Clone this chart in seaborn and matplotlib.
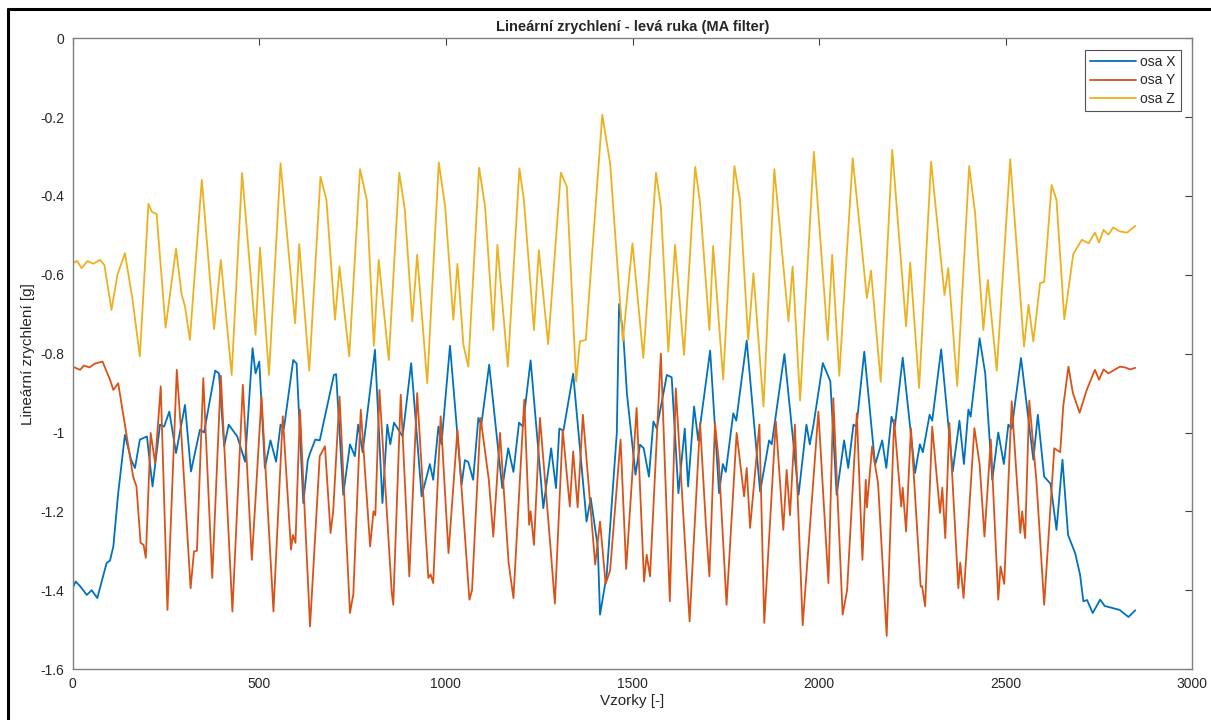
import numpy as np
import seaborn as sns
import matplotlib.pyplot as plt
from matplotlib.lines import Line2D
from matplotlib.ticker import FuncFormatter, MultipleLocator

# ==============================
# Data (sample index, acceleration [g])
# ==============================
x_osa_x = [0, 8, 20, 38, 51, 66, 80, 91, 100, 109, 122, 140, 157, 167, 180, 199, 214, 234, 245, 259,
           277, 301, 317, 341, 352, 382, 392, 406, 418, 441, 462, 482, 490, 500, 515, 530, 545, 557, 566,
           591, 600, 618, 630, 637, 650, 662, 700, 706, 725, 743, 756, 765, 777, 810, 830, 843, 851, 861,
           884, 907, 935, 957, 966, 980, 988, 1011, 1042, 1051, 1060, 1073, 1087, 1095, 1116, 1151, 1167,
           1181, 1196, 1206, 1227, 1261, 1282, 1295, 1304, 1315, 1341, 1377, 1388, 1407, 1413, 1431, 1458,
           1464, 1475, 1485, 1508, 1520, 1530, 1544, 1556, 1565, 1592, 1605, 1623, 1640, 1649, 1665, 1676,
           1708, 1732, 1742, 1750, 1770, 1778, 1806, 1842, 1866, 1873, 1882, 1907, 1945, 1966, 1975, 1985,
           2010, 2030, 2047, 2067, 2078, 2092, 2100, 2121, 2150, 2169, 2180, 2194, 2203, 2224, 2257, 2270,
           2278, 2296, 2303, 2327, 2358, 2376, 2388, 2400, 2406, 2430, 2445, 2464, 2480, 2495, 2507, 2516,
           2541, 2574, 2586, 2603, 2620, 2636, 2652, 2667, 2686, 2699, 2708, 2718, 2733, 2753, 2765, 2785,
           2805, 2829, 2847]
y_osa_x = [-1.395, -1.378, -1.39, -1.412, -1.40, -1.420, -1.37, -1.331, -1.325, -1.289, -1.154, -1.006,
           -1.07, -1.090, -1.018, -1.01, -1.137, -0.980, -0.985, -0.947, -1.052, -0.930, -1.099, -0.993,
           -1.0, -0.843, -0.85, -1.035, -0.98, -1.01, -1.074, -0.786, -0.85, -0.820, -1.090, -1.02, -1.074,
           -0.98, -0.99, -0.816, -0.825, -1.179, -1.07, -1.05, -1.018, -1.02, -0.854, -0.852, -1.158, -1.03,
           -1.06, -0.980, -1.05, -0.790, -1.179, -0.980, -1.03, -0.975, -1.01, -0.824, -1.162, -1.08, -1.12,
           -0.985, -1.03, -0.780, -1.133, -1.07, -1.075, -1.120, -0.963, -0.98, -0.828, -1.141, -1.04, -1.10,
           -0.975, -0.985, -0.817, -1.192, -1.04, -1.141, -0.99, -0.995, -0.851, -1.226, -1.166, -1.29,
           -1.462, -1.36, -1.0, -0.674, -0.748, -0.900, -1.107, -1.031, -1.04, -1.112, -0.972, -0.99, -0.854,
           -0.86, -1.154, -0.99, -1.137, -0.934, -1.02, -0.792, -1.154, -1.08, -1.10, -0.951, -0.97, -0.767,
           -1.150, -1.02, -1.03, -0.97, -0.801, -1.158, -0.98, -1.03, -0.98, -0.824, -0.87, -1.158, -1.02,
           -1.09, -0.98, -0.985, -0.795, -1.082, -1.02, -1.09, -0.96, -0.985, -0.810, -1.103, -1.03, -1.05,
           -0.955, -0.97, -0.789, -1.099, -0.97, -1.08, -0.942, -0.96, -0.761, -0.85, -1.120, -1.0, -1.08,
           -0.980, -0.99, -0.811, -1.069, -0.955, -1.112, -1.13, -1.247, -1.069, -1.26, -1.306, -1.36,
           -1.428, -1.425, -1.458, -1.424, -1.44, -1.445, -1.45, -1.468, -1.451]

x_osa_y = [0, 20, 30, 45, 60, 80, 100, 109, 122, 145, 162, 171, 182, 190, 196, 209, 221, 236, 254, 279,
           292, 316, 325, 333, 350, 374, 397, 428, 456, 480, 488, 506, 538, 563, 585, 590, 597, 609, 636,
           662, 676, 691, 698, 715, 743, 752, 772, 797, 806, 811, 822, 855, 859, 879, 902, 923, 953, 959,
           966, 986, 1007, 1031, 1063, 1070, 1093, 1115, 1127, 1145, 1168, 1181, 1210, 1223, 1227, 1236,
           1252, 1281, 1292, 1313, 1332, 1341, 1353, 1367, 1400, 1413, 1428, 1440, 1468, 1483, 1511, 1531,
           1538, 1547, 1576, 1600, 1616, 1653, 1681, 1697, 1706, 1721, 1731, 1752, 1779, 1799, 1806, 1815,
           1840, 1853, 1884, 1904, 1913, 1922, 1935, 1956, 1998, 2025, 2038, 2063, 2075, 2101, 2116, 2125,
           2128, 2142, 2158, 2181, 2201, 2220, 2224, 2233, 2246, 2272, 2276, 2284, 2303, 2324, 2330, 2338,
           2349, 2373, 2378, 2387, 2416, 2430, 2443, 2460, 2480, 2486, 2496, 2516, 2539, 2544, 2552, 2563,
           2582, 2603, 2630, 2646, 2654, 2668, 2680, 2698, 2717, 2739, 2750, 2762, 2775, 2806, 2820, 2833,
           2847]
y_osa_y = [-0.833, -0.841, -0.83, -0.835, -0.825, -0.820, -0.866, -0.892, -0.875, -1.010, -1.112, -1.137,
           -1.280, -1.285, -1.318, -1.001, -1.078, -0.883, -1.450, -0.841, -1.018, -1.395, -1.302, -1.30,
           -0.862, -1.369, -0.856, -1.454, -0.879, -1.323, -1.20, -0.909, -1.454, -0.959, -1.297, -1.26,
           -1.28, -0.942, -1.492, -1.06, -1.035, -1.255, -1.20, -0.909, -1.458, -1.41, -0.942, -1.289, -1.200,
           -1.21, -0.892, -1.407, -1.437, -0.904, -1.365, -0.900, -1.369, -1.36, -1.382, -0.959, -1.306,
           -0.993, -1.424, -1.40, -0.963, -1.12, -1.264, -1.001, -1.33, -1.420, -0.917, -1.234, -1.20,
           -1.285, -0.963, -1.30, -1.434, -0.993, -1.188, -1.048, -1.19, -0.955, -1.335, -1.226, -1.384,
           -1.35, -1.018, -1.346, -0.938, -1.378, -1.31, -1.365, -0.80, -1.428, -0.888, -1.479, -0.976,
           -1.24, -1.365, -0.976, -1.07, -1.437, -1.001, -1.162, -1.09, -1.242, -0.980, -1.483, -0.972,
           -1.247, -1.095, -1.21, -0.980, -1.489, -0.947, -1.382, -0.913, -1.462, -1.40, -0.951, -1.323,
           -1.120, -1.19, -1.035, -1.13, -1.516, -0.968, -1.188, -1.14, -1.251, -0.989, -1.391, -1.39,
           -1.441, -0.985, -1.204, -1.14, -1.268, -0.976, -1.395, -1.33, -1.420, -0.989, -1.08, -1.264,
           -1.018, -1.424, -1.34, -1.384, -0.921, -1.255, -1.20, -1.268, -0.919, -1.12, -1.437, -1.040,
           -1.05, -0.934, -0.833, -0.90, -0.95, -0.892, -0.841, -0.866, -0.84, -0.85, -0.833, -0.835, -0.84,
           -0.836]

x_osa_z = [0, 12, 24, 40, 55, 73, 85, 104, 120, 140, 160, 180, 203, 212, 225, 249, 265, 277, 292, 301,
           314, 346, 379, 397, 426, 454, 490, 502, 526, 557, 596, 607, 634, 664, 680, 703, 715, 741, 770,
           788, 807, 820, 847, 875, 890, 910, 923, 950, 981, 998, 1020, 1031, 1047, 1060, 1089, 1105, 1127,
           1138, 1166, 1197, 1209, 1236, 1249, 1274, 1308, 1324, 1349, 1359, 1375, 1419, 1440, 1457, 1474,
           1500, 1529, 1563, 1576, 1596, 1614, 1638, 1668, 1681, 1706, 1716, 1743, 1773, 1788, 1810, 1824,
           1851, 1880, 1918, 1929, 1949, 1986, 2023, 2035, 2054, 2090, 2128, 2139, 2165, 2196, 2233, 2244,
           2268, 2300, 2336, 2346, 2370, 2402, 2418, 2440, 2452, 2476, 2512, 2549, 2561, 2574, 2592, 2603,
           2623, 2636, 2657, 2681, 2704, 2722, 2739, 2750, 2762, 2775, 2788, 2806, 2825, 2847]
y_osa_z = [-0.57, -0.565, -0.583, -0.565, -0.572, -0.562, -0.575, -0.689, -0.60, -0.545, -0.66, -0.807,
           -0.420, -0.44, -0.446, -0.734, -0.62, -0.534, -0.65, -0.68, -0.765, -0.359, -0.738, -0.562,
           -0.854, -0.342, -0.752, -0.531, -0.854, -0.317, -0.723, -0.522, -0.843, -0.351, -0.41, -0.714,
           -0.579, -0.807, -0.332, -0.41, -0.780, -0.562, -0.816, -0.341, -0.435, -0.718, -0.549, -0.875,
           -0.315, -0.427, -0.714, -0.572, -0.778, -0.833, -0.328, -0.427, -0.740, -0.524, -0.833, -0.330,
           -0.41, -0.740, -0.537, -0.776, -0.341, -0.376, -0.871, -0.769, -0.765, -0.194, -0.317, -0.545,
           -0.769, -0.520, -0.811, -0.341, -0.427, -0.795, -0.524, -0.803, -0.326, -0.418, -0.740, -0.527,
           -0.866, -0.324, -0.41, -0.765, -0.596, -0.934, -0.332, -0.718, -0.579, -0.919, -0.288, -0.765,
           -0.549, -0.856, -0.304, -0.659, -0.589, -0.871, -0.283, -0.731, -0.569, -0.887, -0.313, -0.651,
           -0.583, -0.882, -0.324, -0.444, -0.740, -0.613, -0.843, -0.307, -0.782, -0.676, -0.769, -0.621,
           -0.618, -0.372, -0.41, -0.713, -0.547, -0.511, -0.52, -0.493, -0.518, -0.486, -0.498, -0.48,
           -0.49, -0.493, -0.476]

series_labels = ["osa X", "osa Y", "osa Z"]
series_colors = ["#0072BD", "#D95319", "#EDB120"]

# ==============================
# Plot
# ==============================
sns.set_style("white")
plt.rcParams["font.family"] = ["Liberation Sans", "DejaVu Sans"]
plt.rcParams["axes.unicode_minus"] = False

fig = plt.figure(figsize=(12.11, 7.2), dpi=100)
ax = fig.add_axes([0.060, 0.0708, 0.9246, 0.876])

for xs, ys, lab, col in zip([x_osa_x, x_osa_y, x_osa_z], [y_osa_x, y_osa_y, y_osa_z],
                            series_labels, series_colors):
    sns.lineplot(x=xs, y=ys, ax=ax, color=col, label=lab, linewidth=1.3, sort=False)
for ln in ax.get_lines():
    ln.set_solid_joinstyle("round")

ax.set_xlim(0, 3000)
ax.set_ylim(-1.6, 0)
ax.xaxis.set_major_locator(MultipleLocator(500))
ax.yaxis.set_major_locator(MultipleLocator(0.2))
ax.yaxis.set_major_formatter(FuncFormatter(lambda v, p: "%g" % round(v, 2)))

axis_grey = "#808080"
for sp in ax.spines.values():
    sp.set_color(axis_grey)
    sp.set_linewidth(1.0)
ax.tick_params(direction="in", length=5, width=0.8, color="#404040", labelcolor="#262626",
               labelsize=10, top=True, right=True, pad=6)

ax.set_title("Lineární zrychlení - levá ruka (MA filter)", fontsize=10.5, fontweight="bold", pad=5)
ax.set_xlabel("Vzorky [-]", fontsize=11, color="#262626", labelpad=2)
ax.set_ylabel("Lineární zrychlení [g]", fontsize=11, color="#262626", labelpad=4)

leg = ax.legend(loc="upper right", fontsize=10, frameon=True, fancybox=False, handlelength=3.3,
                borderpad=0.35, labelspacing=0.32, handletextpad=0.3, borderaxespad=0.85)
leg.get_frame().set_edgecolor("#262626")
leg.get_frame().set_linewidth(0.8)
for t in leg.get_texts():
    t.set_color("#262626")

# dark frame lines at the screenshot's left and top edges
fig.add_artist(Line2D([8 / 1211, 8 / 1211], [0, 1 - 9 / 720], transform=fig.transFigure,
                      color="black", linewidth=2.2))
fig.add_artist(Line2D([8 / 1211, 1], [1 - 9 / 720, 1 - 9 / 720], transform=fig.transFigure,
                      color="black", linewidth=2.2))

plt.savefig("out.png", dpi=100)
